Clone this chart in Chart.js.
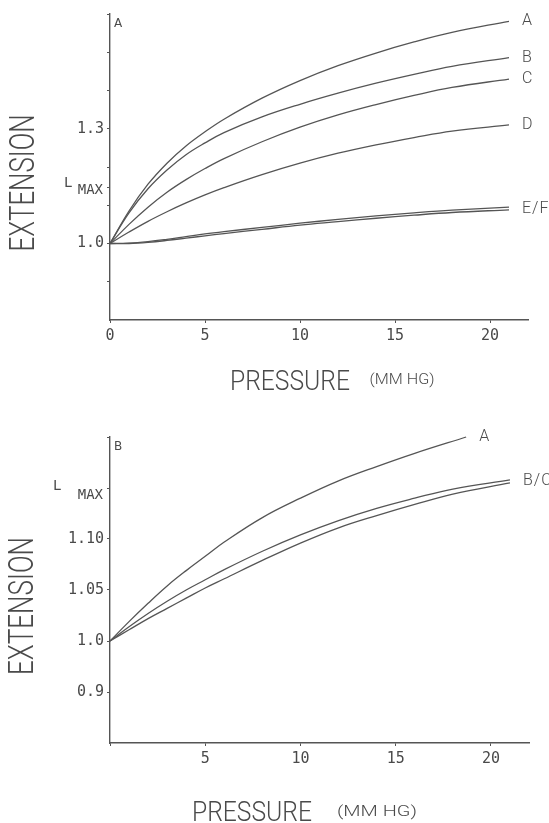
<!DOCTYPE html>
<html>
<head>
<meta charset="utf-8">
<script src="https://cdn.jsdelivr.net/npm/chart.js@4.4.1/dist/chart.umd.min.js"></script>
<style>
  html, body { margin: 0; padding: 0; background: #fff; }
  .panel { position: absolute; left: 0; width: 549px; }
  #panelA { top: 0; height: 411px; }
  #panelB { top: 411px; height: 412px; }
</style>
</head>
<body>
<div class="panel" id="panelA"><canvas id="chartA"></canvas></div>
<div class="panel" id="panelB"><canvas id="chartB"></canvas></div>
<script>
// Panel A: extension vs pressure, six preparations
var pressureA = [0, 1, 2, 3, 4, 5, 6, 8, 10, 12, 14, 16, 18, 21];
var extA_A = [1.000, 1.085, 1.155, 1.210, 1.255, 1.292, 1.325, 1.380, 1.426, 1.465, 1.498, 1.527, 1.552, 1.581];
var extA_B = [1.000, 1.080, 1.143, 1.192, 1.232, 1.263, 1.290, 1.331, 1.364, 1.393, 1.419, 1.442, 1.463, 1.486];
var extA_C = [1.000, 1.050, 1.095, 1.134, 1.167, 1.196, 1.222, 1.266, 1.304, 1.336, 1.363, 1.387, 1.408, 1.430];
var extA_D = [1.000, 1.030, 1.058, 1.083, 1.106, 1.127, 1.146, 1.180, 1.210, 1.236, 1.258, 1.277, 1.294, 1.310];
var extA_E = [1.000, 1.001, 1.005, 1.011, 1.018, 1.025, 1.031, 1.042, 1.053, 1.063, 1.072, 1.080, 1.087, 1.095];
var extA_F = [1.000, 1.000, 1.003, 1.008, 1.014, 1.020, 1.026, 1.037, 1.048, 1.057, 1.066, 1.074, 1.081, 1.088];
var tagsA = ['A', 'B', 'C', 'D', 'E/F', 'E/F'];
var yTicksA = [0.9, 1.0, 1.1, 1.146, 1.2, 1.3, 1.4, 1.5, 1.6];
var yLabelsA = { '1.00': '1.0', '1.30': '1.3' };
var lmaxA = 1.146;

// Panel B: three preparations, finer extension scale
var pressureB_A = [0, 1, 2, 3, 4, 5, 6, 8, 10, 12, 14, 16, 18.7];
var extB_A = [1.000, 1.019, 1.037, 1.054, 1.069, 1.083, 1.097, 1.121, 1.140, 1.157, 1.171, 1.184, 1.200];
var pressureB = [0, 1, 2, 3, 4, 5, 6, 8, 10, 12, 14, 16, 18, 21];
var extB_B = [1.000, 1.014, 1.027, 1.039, 1.050, 1.060, 1.070, 1.088, 1.104, 1.118, 1.130, 1.140, 1.149, 1.158];
var extB_C = [1.000, 1.011, 1.022, 1.032, 1.042, 1.052, 1.061, 1.079, 1.096, 1.111, 1.123, 1.134, 1.144, 1.155];
var tagsB = ['A', 'B/C', 'B/C'];
var yTicksB = [0.95, 1.0, 1.05, 1.10, 1.15, 1.20];
var yLabelsB = { '0.95': '0.9', '1.00': '1.0', '1.05': '1.05', '1.10': '1.10' };
var lmaxB = 1.15;

var xTicks = [0, 5, 10, 15, 20];

var INK = '#555';
var TEXT = '#4a4a4a';
var TICK_FONT = { family: 'DejaVu Sans Mono', size: 15 };

function toPoints(xs, ys) {
  return xs.map(function (x, i) { return { x: x, y: ys[i] }; });
}

// draws a string squeezed to a given width, like the plotter lettering
function plotterText(ctx, text, cx, cy, size, width, rotate) {
  ctx.save();
  ctx.font = '300 ' + size + 'px Roboto';
  var w = ctx.measureText(text).width;
  ctx.translate(cx, cy);
  if (rotate) ctx.rotate(-Math.PI / 2);
  ctx.scale(width / w, 1);
  ctx.textAlign = 'center';
  ctx.textBaseline = 'alphabetic';
  ctx.fillStyle = TEXT;
  ctx.fillText(text, 0, size * 0.355);
  ctx.restore();
}

var lettering = {
  id: 'lettering',
  afterDraw: function (chart, args, o) {
    var ctx = chart.ctx;
    var area = chart.chartArea;
    var yScale = chart.scales.y;

    // curve names at the end of each line
    var groups = {};
    chart.data.datasets.forEach(function (ds, i) {
      var pts = chart.getDatasetMeta(i).data;
      var end = pts[pts.length - 1];
      if (!groups[ds.tag]) groups[ds.tag] = { x: 0, y: 0, n: 0 };
      groups[ds.tag].x = Math.max(groups[ds.tag].x, end.x);
      groups[ds.tag].y += end.y;
      groups[ds.tag].n += 1;
    });
    ctx.save();
    ctx.fillStyle = TEXT;
    ctx.font = '300 16px Roboto';
    ctx.letterSpacing = '1px';
    ctx.textBaseline = 'middle';
    ctx.textAlign = 'left';
    Object.keys(groups).forEach(function (tag) {
      var g = groups[tag];
      ctx.fillText(tag, g.x + 13, g.y / g.n);
    });
    ctx.letterSpacing = '0px';

    // panel letter
    ctx.font = '12px DejaVu Sans';
    ctx.fillText(o.panel, area.left + 4, area.top + 10);

    // L MAX marker on the y axis
    var ly = yScale.getPixelForValue(o.lmax);
    ctx.font = '14px DejaVu Sans Mono';
    ctx.textAlign = 'right';
    ctx.fillText('MAX', area.left - 7, ly + o.maxDy);
    ctx.textAlign = 'left';
    ctx.fillText('L', o.lx, ly + o.lDy);
    ctx.restore();

    // axis titles
    plotterText(ctx, 'EXTENSION', o.ext.x, o.ext.y, 35, o.ext.w, true);
    plotterText(ctx, 'PRESSURE', o.pres.x, o.pres.y, 28, o.pres.w, false);
    plotterText(ctx, '(MM HG)', o.mm.x, o.mm.y, 14, o.mm.w, false);
  }
};

function makeChart(id, datasets, cfg) {
  return new Chart(document.getElementById(id), {
    type: 'line',
    data: { datasets: datasets },
    plugins: [lettering],
    options: {
      responsive: true,
      maintainAspectRatio: false,
      animation: false,
      layout: { padding: cfg.padding },
      elements: {
        point: { radius: 0 },
        line: { borderColor: INK, borderWidth: 1.3, tension: 0.4 }
      },
      plugins: {
        legend: { display: false },
        tooltip: { enabled: false },
        lettering: cfg.lettering
      },
      scales: {
        x: {
          type: 'linear',
          min: 0,
          max: 22,
          afterFit: function (scale) { scale.height = cfg.xHeight; },
          afterBuildTicks: function (scale) {
            scale.ticks = xTicks.map(function (v) { return { value: v }; });
          },
          border: { display: true, color: INK, width: 1.4 },
          grid: { display: true, drawOnChartArea: false, color: INK, tickLength: 3 },
          ticks: {
            color: TEXT,
            font: TICK_FONT,
            padding: 4,
            maxRotation: 0,
            callback: function (v) { return (v === 0 && !cfg.showZero) ? '' : String(v); }
          }
        },
        y: {
          type: 'linear',
          min: cfg.yMin,
          max: cfg.yMax,
          afterFit: function (scale) { scale.width = 110; },
          afterBuildTicks: function (scale) {
            scale.ticks = cfg.yTicks.map(function (v) { return { value: v }; });
          },
          border: { display: true, color: INK, width: 1.4 },
          grid: { display: true, drawOnChartArea: false, color: INK, tickLength: 3 },
          ticks: {
            color: TEXT,
            font: TICK_FONT,
            padding: 3,
            callback: function (v) { return cfg.yLabels[v.toFixed(2)] || ''; }
          }
        }
      }
    }
  });
}

function series(xs, ys, tag) {
  return { data: toPoints(xs, ys), tag: tag, fill: false, clip: 4 };
}

makeChart('chartA', [
  series(pressureA, extA_A, tagsA[0]),
  series(pressureA, extA_B, tagsA[1]),
  series(pressureA, extA_C, tagsA[2]),
  series(pressureA, extA_D, tagsA[3]),
  series(pressureA, extA_E, tagsA[4]),
  series(pressureA, extA_F, tagsA[5])
], {
  padding: { left: 0, top: 14, right: 21, bottom: 0 },
  xHeight: 91,
  yMin: 0.8, yMax: 1.6,
  yTicks: yTicksA, yLabels: yLabelsA,
  showZero: true,
  lettering: {
    panel: 'A', lmax: lmaxA, maxDy: 3, lDy: -4, lx: 64,
    ext: { x: 22, y: 183, w: 137 },
    pres: { x: 290, y: 380, w: 120 },
    mm: { x: 402, y: 379, w: 65 }
  }
});

makeChart('chartB', [
  series(pressureB_A, extB_A, tagsB[0]),
  series(pressureB, extB_B, tagsB[1]),
  series(pressureB, extB_C, tagsB[2])
], {
  padding: { left: 0, top: 26, right: 20, bottom: 0 },
  xHeight: 80,
  yMin: 0.90, yMax: 1.20,
  yTicks: yTicksB, yLabels: yLabelsB,
  showZero: false,
  lettering: {
    panel: 'B', lmax: lmaxB, maxDy: 7, lDy: -2, lx: 53,
    ext: { x: 21, y: 195, w: 138 },
    pres: { x: 252, y: 400, w: 120 },
    mm: { x: 377, y: 400, w: 80 }
  }
});
</script>
</body>
</html>
